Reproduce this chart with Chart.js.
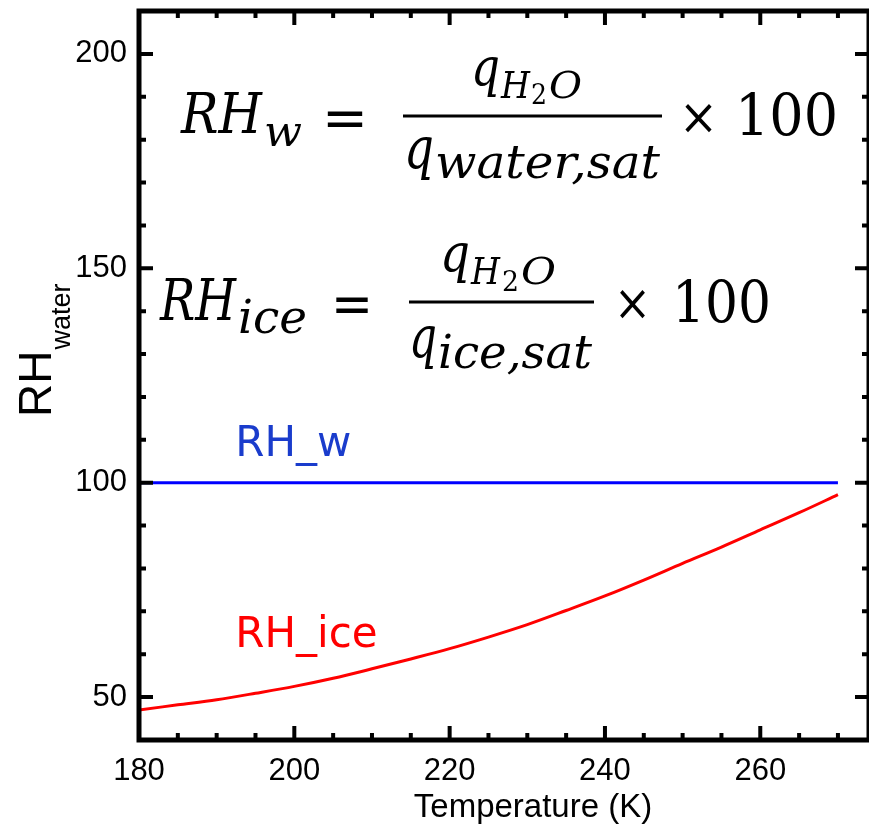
<!DOCTYPE html>
<html>
<head>
<meta charset="utf-8">
<title>RH water / ice</title>
<script src="https://cdn.jsdelivr.net/npm/chart.js@4.4.0/dist/chart.umd.min.js"></script>
<style>
    html, body { margin: 0; padding: 0; background: #fff; overflow: hidden; }
    #rhChart { display: block; }
</style>
</head>
<body>
<canvas id="rhChart" width="869" height="825"></canvas>
<script>
'use strict';

// Data
var temperatures = [180, 185, 190, 195, 200, 205, 210, 215, 220, 225, 230, 235, 240, 245, 250, 255, 260, 265, 270];
var rhWater = [100, 100, 100, 100, 100, 100, 100, 100, 100, 100, 100, 100, 100, 100, 100, 100, 100, 100, 100];
var rhIce = [47.0, 48.2, 49.4, 50.9, 52.5, 54.4, 56.6, 58.9, 61.3, 64.0, 66.9, 70.2, 73.6, 77.3, 81.2, 85.0, 89.0, 93.0, 97.2];
var xTickValues = [180, 200, 220, 240, 260];
var yTickValues = [50, 100, 150, 200];

var SANS = "'Liberation Sans', Arial, sans-serif";
var SERIF = "'DejaVu Serif', serif";

/**
 * Draw text squeezed/stretched to fit between x0 and x1
 */
function fitText(ctx, text, font, x0, x1, baseline) {
    ctx.font = font;
    var w = ctx.measureText(text).width;
    ctx.save();
    ctx.translate(x0, baseline);
    ctx.scale((x1 - x0) / w, 1);
    ctx.textAlign = 'left';
    ctx.textBaseline = 'alphabetic';
    ctx.fillText(text, 0, 0);
    ctx.restore();
}

var RHPlot = {

    /**
     * Frame with inward ticks, like the IDL box axes
     */
    framePlugin: {
        id: 'frame',
        afterDatasetsDraw: function(chart) {
            var ctx = chart.ctx;
            var a = chart.chartArea;
            var xs = chart.scales.x;
            var ys = chart.scales.y;
            var v, px, len;

            ctx.save();
            ctx.strokeStyle = '#000';
            ctx.lineCap = 'butt';

            ctx.lineWidth = 4;
            for (v = 180; v <= xs.max; v += 5) {
                px = xs.getPixelForValue(v);
                len = xTickValues.indexOf(v) >= 0 ? 14 : 7;
                ctx.beginPath();
                ctx.moveTo(px, a.bottom);
                ctx.lineTo(px, a.bottom - len);
                ctx.moveTo(px, a.top);
                ctx.lineTo(px, a.top + len);
                ctx.stroke();
            }
            for (v = 50; v <= ys.max; v += 10) {
                px = ys.getPixelForValue(v);
                len = yTickValues.indexOf(v) >= 0 ? 14 : 7;
                ctx.beginPath();
                ctx.moveTo(a.left, px);
                ctx.lineTo(a.left + len, px);
                ctx.moveTo(a.right, px);
                ctx.lineTo(a.right - len, px);
                ctx.stroke();
            }

            ctx.lineWidth = 5;
            ctx.strokeRect(a.left, a.top, a.right - a.left, a.bottom - a.top);
            ctx.restore();
        }
    },

    /**
     * Axis titles, curve labels and the two formulas
     */
    textPlugin: {
        id: 'texts',
        afterDraw: function(chart) {
            var ctx = chart.ctx;
            var xs = chart.scales.x;
            var ys = chart.scales.y;

            ctx.save();
            ctx.fillStyle = '#000';
            ctx.textBaseline = 'alphabetic';

            // x title
            ctx.font = '33px ' + SANS;
            ctx.textAlign = 'center';
            ctx.fillText('Temperature (K)', 533, 817);

            // y title with subscript
            ctx.save();
            ctx.translate(51, 417);
            ctx.rotate(-Math.PI / 2);
            ctx.textAlign = 'left';
            ctx.font = '46px ' + SANS;
            ctx.fillText('RH', 0, 0);
            var rhw = ctx.measureText('RH').width;
            ctx.font = '27px ' + SANS;
            ctx.fillText('water', rhw + 1, 19);
            ctx.restore();

            // curve labels
            ctx.textAlign = 'left';
            ctx.font = "42px 'DejaVu Sans', sans-serif";
            ctx.fillStyle = '#1a3ccc';
            ctx.fillText('RH_w', xs.getPixelForValue(192.4), ys.getPixelForValue(106.2));
            ctx.fillStyle = '#ff0000';
            ctx.fillText('RH_ice', xs.getPixelForValue(192.4), ys.getPixelForValue(61.8));

            // formulas
            ctx.fillStyle = '#000';
            ctx.strokeStyle = '#000';
            var it = 'italic ';

            // RH_w = q_H2O / q_water,sat x 100
            fitText(ctx, 'RH', it + '56px ' + SERIF, 181, 262, 133);
            fitText(ctx, 'w', it + '42px ' + SERIF, 264, 302, 146);
            fitText(ctx, '=', '56px ' + SERIF, 322, 368, 137);
            fitText(ctx, 'q', it + '54px ' + SERIF, 471, 500, 86);
            fitText(ctx, 'H', it + '38px ' + SERIF, 501, 530, 98);
            fitText(ctx, '2', '27px ' + SERIF, 531, 547, 104);
            fitText(ctx, 'O', it + '38px ' + SERIF, 549, 582, 98);
            fitText(ctx, 'q', it + '58px ' + SERIF, 404, 434, 168);
            fitText(ctx, 'water,sat', it + '46px ' + SERIF, 435, 660, 178);
            fitText(ctx, '\u00d7', '50px ' + SERIF, 679, 718, 134);
            fitText(ctx, '100', '58px ' + SERIF, 735, 838, 135);
            ctx.lineWidth = 3;
            ctx.beginPath();
            ctx.moveTo(403, 116);
            ctx.lineTo(662, 116);
            ctx.stroke();

            // RH_ice = q_H2O / q_ice,sat x 100
            fitText(ctx, 'RH', it + '58px ' + SERIF, 160, 236, 320);
            fitText(ctx, 'ice', it + '46px ' + SERIF, 238, 307, 333);
            fitText(ctx, '=', '56px ' + SERIF, 331, 373, 323);
            fitText(ctx, 'q', it + '54px ' + SERIF, 440, 470, 272);
            fitText(ctx, 'H', it + '38px ' + SERIF, 471, 500, 284);
            fitText(ctx, '2', '27px ' + SERIF, 502, 519, 291);
            fitText(ctx, 'O', it + '38px ' + SERIF, 521, 556, 284);
            fitText(ctx, 'q', it + '58px ' + SERIF, 409, 437, 357);
            fitText(ctx, 'ice,sat', it + '46px ' + SERIF, 438, 592, 368);
            fitText(ctx, '\u00d7', '50px ' + SERIF, 614, 651, 320);
            fitText(ctx, '100', '58px ' + SERIF, 672, 771, 322);
            ctx.beginPath();
            ctx.moveTo(409, 302);
            ctx.lineTo(594, 302);
            ctx.stroke();

            ctx.restore();
        }
    },

    /**
     * Build the chart
     */
    init: function() {
        var ctx = document.getElementById('rhChart');
        var waterPoints = temperatures.map(function(t, i) { return {x: t, y: rhWater[i]}; });
        var icePoints = temperatures.map(function(t, i) { return {x: t, y: rhIce[i]}; });
        var tickFont = {family: SANS, size: 31};

        new Chart(ctx, {
            type: 'line',
            data: {
                datasets: [{
                    label: 'RH_w',
                    data: waterPoints,
                    borderColor: '#0000ff',
                    borderWidth: 3,
                    pointRadius: 0,
                    tension: 0
                }, {
                    label: 'RH_ice',
                    data: icePoints,
                    borderColor: '#ff0000',
                    borderWidth: 3,
                    pointRadius: 0,
                    cubicInterpolationMode: 'monotone'
                }]
            },
            options: {
                responsive: false,
                animation: false,
                devicePixelRatio: 1,
                layout: {padding: {top: 11, right: 0, left: 0, bottom: 0}},
                plugins: {
                    legend: {display: false},
                    tooltip: {enabled: false}
                },
                scales: {
                    x: {
                        type: 'linear',
                        min: 180,
                        max: 274,
                        grid: {display: false, drawTicks: false},
                        border: {display: false},
                        ticks: {
                            font: tickFont,
                            color: '#000',
                            padding: 13,
                            maxRotation: 0,
                            autoSkip: false
                        },
                        afterBuildTicks: function(scale) {
                            scale.ticks = xTickValues.map(function(v) { return {value: v}; });
                        },
                        afterFit: function(scale) {
                            scale.height = 85;
                            scale.paddingLeft = 0;
                            scale.paddingRight = 0;
                        }
                    },
                    y: {
                        type: 'linear',
                        min: 40,
                        max: 210,
                        grid: {display: false, drawTicks: false},
                        border: {display: false},
                        ticks: {
                            font: tickFont,
                            color: '#000',
                            padding: 12,
                            autoSkip: false
                        },
                        afterBuildTicks: function(scale) {
                            scale.ticks = yTickValues.map(function(v) { return {value: v}; });
                        },
                        afterFit: function(scale) {
                            scale.width = 139;
                            scale.paddingTop = 0;
                            scale.paddingBottom = 0;
                        }
                    }
                }
            },
            plugins: [RHPlot.framePlugin, RHPlot.textPlugin]
        });
    }
};

RHPlot.init();
</script>
</body>
</html>
